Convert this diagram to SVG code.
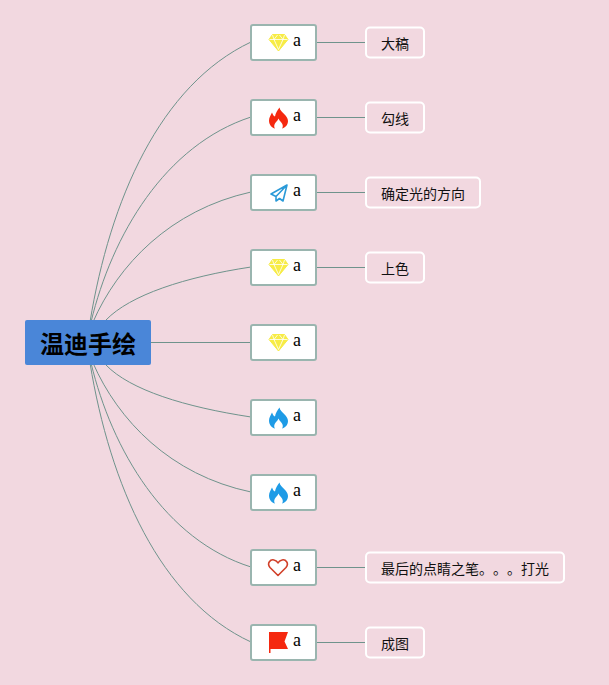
<svg xmlns="http://www.w3.org/2000/svg" xmlns:xlink="http://www.w3.org/1999/xlink" width="609" height="685" viewBox="0 0 609 685">
<style>
.c{fill:none;stroke:#6f938c;stroke-width:1}
.n{fill:#fff;stroke:#9ab5af;stroke-width:2}
.l{fill:#f2d8e0;stroke:#fff;stroke-width:2}
.a{font-family:"Liberation Serif",serif;font-size:18px;fill:#000}
.t{font-family:"Noto Sans CJK SC","Liberation Sans",sans-serif;font-size:14px;fill:#111;text-spacing-trim:space-all;font-feature-settings:"palt" 0,"halt" 0,"chws" 0}
</style>
<defs>
<g id="gem"><path d="M-6-8H6L9.500-3 0 8.500-9.500-3Z" fill="#f7ec45" stroke="#f7ec45" stroke-width="1"/><path d="M-9-3H9M-4.500-3 0 7 4.500-3M-6-7.500-4.500-3-1-7.500M1-7.500 4.500-3 6-7.500" fill="none" stroke="#fff" stroke-width=".8"/></g>
<path id="fire" d="M1-10.500C2-5 9.500-3 9.500 3 9.500 7.500 6 10 3.500 10.500 4.500 9 4.500 7.500 3.800 6 3 4 1 3 0 .5-1 3-3 4-3.800 6-4.500 7.500-4.500 9-3.500 10.500-6 10-9.500 7.500-9.500 2.500-9.500-1-7.500-3-6.500-5.500-5.500-3-5-2-3.500-1.500-3-5-1-8 1-10.500Z"/>
</defs>
<rect width="609" height="685" fill="#f2d8e0"/>
<g id="connectors">
<path class="c" d="M90 322C110 200 160 85 251 42"/>
<path class="c" d="M91 322C112 235 165 145 251 117"/>
<path class="c" d="M93 322C118 265 170 210 251 192"/>
<path class="c" d="M106 320C130 295 185 277 251 267"/>
<path class="c" d="M151 342.500H251"/>
<path class="c" d="M106 365C130 390 185 407 251 417"/>
<path class="c" d="M93 363C118 420 170 475 251 492"/>
<path class="c" d="M91 363C112 450 165 540 251 567"/>
<path class="c" d="M90 363C110 485 160 600 251 642"/>
<path class="c" d="M316 42.500H366M316 117.500H366M316 192.500H366M316 267.500H366M316 567.500H366M316 642.500H366"/>
</g>
<g id="root"><rect x="25" y="320" width="126" height="45" rx="2" fill="#4a86d8"/><text x="88" y="353" text-anchor="middle" font-family="'Noto Sans CJK SC',sans-serif" font-size="24" font-weight="700" fill="#000">温迪手绘</text></g>
<g id="n1"><rect class="n" x="251" y="25" width="65" height="35" rx="2"/><use xlink:href="#gem" href="#gem" x="278.500" y="42.500"/><text class="a" x="293" y="46">a</text></g>
<g id="n2"><rect class="n" x="251" y="100" width="65" height="35" rx="2"/><use xlink:href="#fire" href="#fire" x="278.500" y="118" fill="#f5280f"/><text class="a" x="293" y="121">a</text></g>
<g id="n3"><rect class="n" x="251" y="175" width="65" height="35" rx="2"/><path d="M287 185 271 194 276 196.500ZM287 185 276 196.500 276 201 279.500 198.500 283 201Z" fill="none" stroke="#2a9ad8" stroke-width="1.600" stroke-linejoin="round"/><text class="a" x="293" y="196">a</text></g>
<g id="n4"><rect class="n" x="251" y="250" width="65" height="35" rx="2"/><use xlink:href="#gem" href="#gem" x="278.500" y="267.500"/><text class="a" x="293" y="271">a</text></g>
<g id="n5"><rect class="n" x="251" y="325" width="65" height="35" rx="2"/><use xlink:href="#gem" href="#gem" x="278.500" y="342.500"/><text class="a" x="293" y="346">a</text></g>
<g id="n6"><rect class="n" x="251" y="400" width="65" height="35" rx="2"/><use xlink:href="#fire" href="#fire" x="278.500" y="418" fill="#1e9be6"/><text class="a" x="293" y="421">a</text></g>
<g id="n7"><rect class="n" x="251" y="475" width="65" height="35" rx="2"/><use xlink:href="#fire" href="#fire" x="278.500" y="493" fill="#1e9be6"/><text class="a" x="293" y="496">a</text></g>
<g id="n8"><rect class="n" x="251" y="550" width="65" height="35" rx="2"/><path d="M278 575.500 270 567.500C266.500 563 270.500 559 274 560 276 560.500 277.500 562 278 563 278.500 562 280 560.500 282 560 285.500 559 289.500 563 286 567.500Z" fill="none" stroke="#d13f28" stroke-width="1.600" stroke-linejoin="round"/><text class="a" x="293" y="571">a</text></g>
<g id="n9"><rect class="n" x="251" y="625" width="65" height="35" rx="2"/><path d="M269 632H288L284.500 641.500 288 649H270.500V653H269Z" fill="#f5280f"/><text class="a" x="293" y="646">a</text></g>
<g id="l1"><rect class="l" x="366" y="27.500" width="58" height="30" rx="4"/><text class="t" x="381" y="49">大稿</text></g>
<g id="l2"><rect class="l" x="366" y="102.500" width="58" height="30" rx="4"/><text class="t" x="381" y="124">勾线</text></g>
<g id="l3"><rect class="l" x="366" y="177.500" width="114" height="30" rx="4"/><text class="t" x="381" y="199">确定光的方向</text></g>
<g id="l4"><rect class="l" x="366" y="252.500" width="58" height="30" rx="4"/><text class="t" x="381" y="274">上色</text></g>
<g id="l8"><rect class="l" x="366" y="552.500" width="198" height="30" rx="4"/><text class="t" x="381" y="574">最后的点睛之笔。。。打光</text></g>
<g id="l9"><rect class="l" x="366" y="627.500" width="58" height="30" rx="4"/><text class="t" x="381" y="649">成图</text></g>
</svg>
